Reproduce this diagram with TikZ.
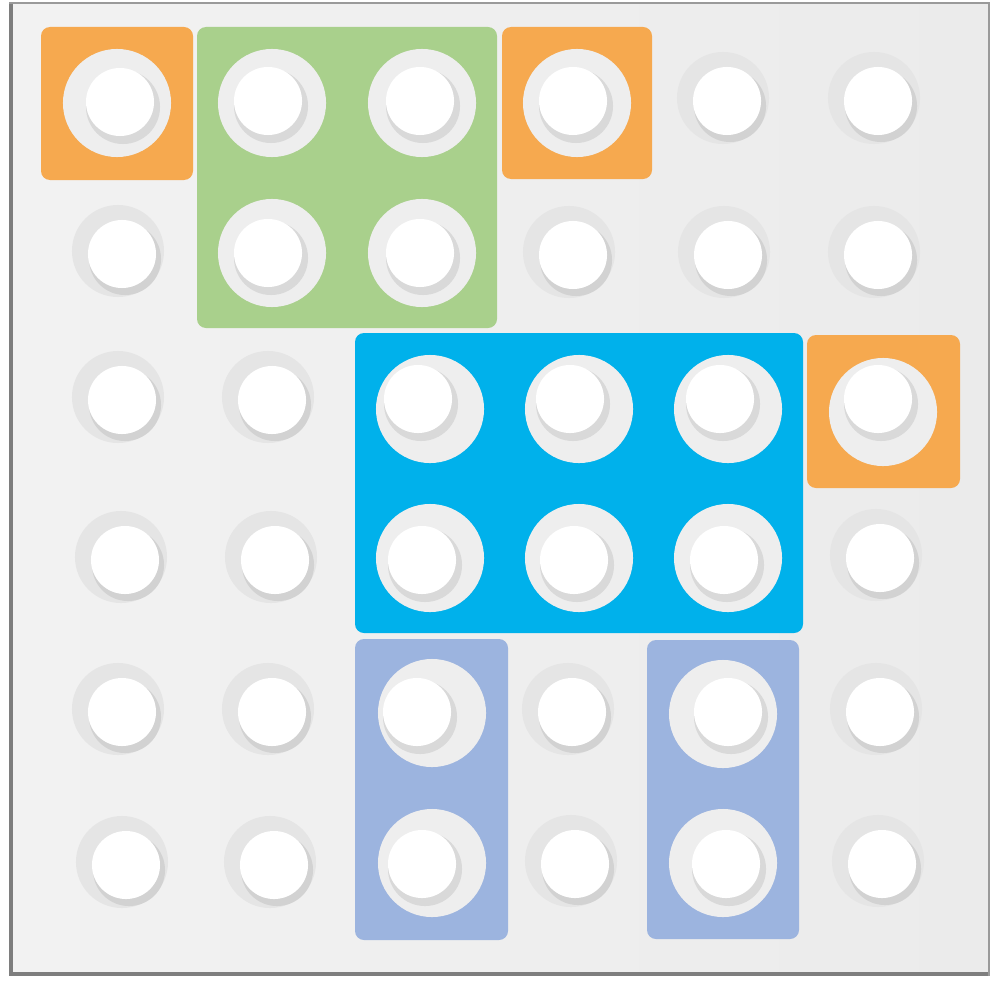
\documentclass[tikz,border=0pt]{standalone}
\usetikzlibrary{calc}
\definecolor{boardL}{HTML}{F2F2F2}
\definecolor{boardR}{HTML}{EBEBEB}
\definecolor{boardedge}{HTML}{9A9A9A}
\definecolor{boarddark}{HTML}{7E7E7E}
\definecolor{orangeblk}{HTML}{F6A94F}
\definecolor{greenblk}{HTML}{A9D08C}
\definecolor{blueblk}{HTML}{00B1EB}
\definecolor{periblk}{HTML}{9CB4DF}
\definecolor{holeshade}{HTML}{E5E5E5}
\definecolor{holerim}{HTML}{D2D2D2}
\definecolor{studring}{HTML}{EEEEEE}
\definecolor{studrim}{HTML}{D9D9D9}
\tikzset{
  blockbox/.style={fill=#1, draw=none, rounded corners=0.09cm},
}
% board hole at (x,y)
\newcommand{\boardhole}[2]{%
  \fill[holeshade] ($(#1,#2)+(-4,-3)$) circle[radius=0.46cm];
  \fill[holerim] ($(#1,#2)+(3,5)$) circle[radius=0.36cm];
  \fill[white] (#1,#2) circle[radius=0.34cm];
}
% stud: ring centre (rx,ry), hole centre (hx,hy)
\newcommand{\studhole}[4]{%
  \fill[studring] (#1,#2) circle[radius=0.54cm];
  \fill[studrim] ($(#3,#4)+(3,5)$) circle[radius=0.37cm];
  \fill[white] (#3,#4) circle[radius=0.34cm];
}
\begin{document}
\begin{tikzpicture}[x=0.01cm,y=-0.01cm]
\useasboundingbox (0,0) rectangle (992,985);
\fill[white] (0,0) rectangle (992,985);
% board
\shade[left color=boardL, right color=boardR] (10,3) rectangle (989,975);
\draw[boardedge, line width=0.7pt] (10,3) rectangle (989,975);
\draw[boarddark, line width=1.3pt] (11,4) -- (11,974) -- (988,974);

% blocks
\fill[blockbox=orangeblk] (41,27) rectangle (193,180);
\fill[blockbox=greenblk] (197,27) rectangle (497,328);
\fill[blockbox=orangeblk] (502,27) rectangle (652,179);
\fill[blockbox=blueblk] (355,333) rectangle (803,633);
\fill[blockbox=orangeblk] (807,335) rectangle (960,488);
\fill[blockbox=periblk] (355,639) rectangle (508,940);
\fill[blockbox=periblk] (647,640) rectangle (799,939);

% studs on blocks
\studhole{117}{103}{120}{102}
\studhole{272}{103}{268}{101}
\studhole{422}{103}{420}{101}
\studhole{272}{253}{268}{253}
\studhole{422}{253}{420}{253}
\studhole{577}{103}{573}{101}
\studhole{430}{409}{418}{399}
\studhole{579}{409}{570}{399}
\studhole{728}{409}{720}{399}
\studhole{430}{558}{422}{560}
\studhole{579}{558}{574}{560}
\studhole{728}{558}{724}{560}
\studhole{883}{412}{878}{399}
\studhole{432}{713}{417}{712}
\studhole{432}{863}{422}{864}
\studhole{723}{714}{728}{712}
\studhole{723}{863}{726}{864}

% bare board holes
\boardhole{727}{101}
\boardhole{878}{101}
\boardhole{122}{254}
\boardhole{573}{255}
\boardhole{728}{255}
\boardhole{878}{255}
\boardhole{122}{400}
\boardhole{272}{400}
\boardhole{125}{560}
\boardhole{275}{560}
\boardhole{880}{558}
\boardhole{122}{712}
\boardhole{272}{712}
\boardhole{572}{712}
\boardhole{880}{712}
\boardhole{126}{865}
\boardhole{274}{865}
\boardhole{575}{864}
\boardhole{882}{864}
\end{tikzpicture}
\end{document}
